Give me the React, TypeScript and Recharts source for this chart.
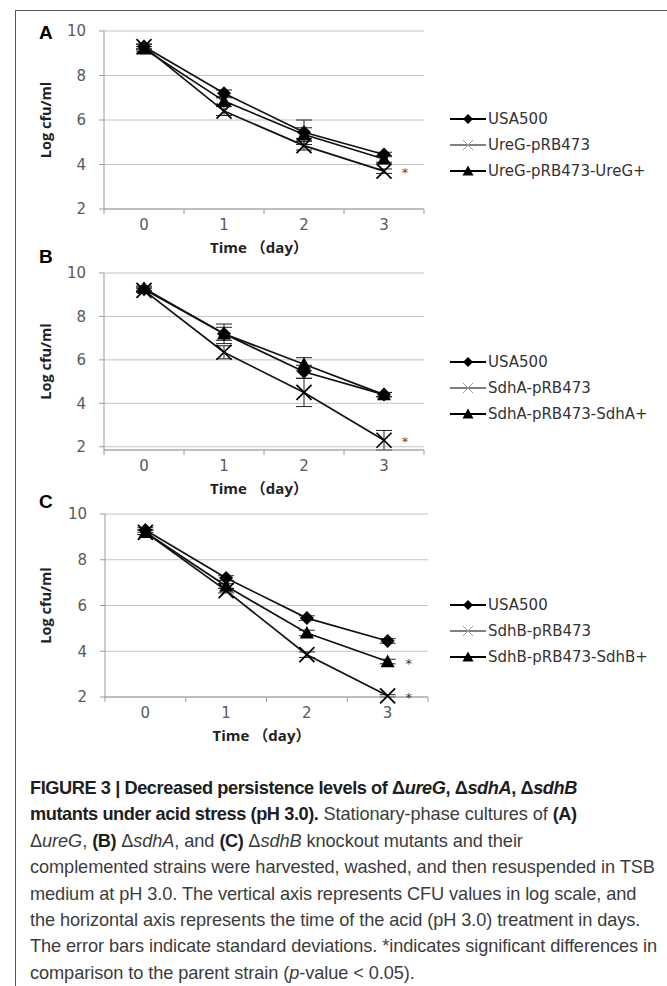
import { LineChart, Line, XAxis, YAxis, CartesianGrid, ErrorBar, Legend, LabelList } from "recharts";

const DAYS = [0, 1, 2, 3];
const Y_TICKS = [2, 4, 6, 8, 10];

// panel A: ureG
const A_NAMES = ["USA500", "UreG-pRB473", "UreG-pRB473-UreG+"];
const A_WT = [9.3, 7.2, 5.45, 4.45];
const A_MUT = [9.3, 6.4, 4.85, 3.7];
const A_COMP = [9.2, 6.85, 5.35, 4.25];
const A_WT_SD = [0.1, 0.15, 0.55, 0.1];
const A_MUT_SD = [0.12, 0.2, 0.2, 0.1];
const A_COMP_SD = [0.1, 0.15, 0.3, 0.15];
const A_MUT_SIG = ["", "", "", "*"];
const A_COMP_SIG = ["", "", "", ""];

// panel B: sdhA
const B_NAMES = ["USA500", "SdhA-pRB473", "SdhA-pRB473-SdhA+"];
const B_WT = [9.25, 7.2, 5.45, 4.4];
const B_MUT = [9.2, 6.35, 4.5, 2.3];
const B_COMP = [9.3, 7.2, 5.8, 4.4];
const B_WT_SD = [0.1, 0.45, 0.3, 0.1];
const B_MUT_SD = [0.1, 0.3, 0.65, 0.45];
const B_COMP_SD = [0.1, 0.3, 0.3, 0.1];
const B_MUT_SIG = ["", "", "", "*"];
const B_COMP_SIG = ["", "", "", ""];

// panel C: sdhB
const C_NAMES = ["USA500", "SdhB-pRB473", "SdhB-pRB473-SdhB+"];
const C_WT = [9.3, 7.2, 5.45, 4.45];
const C_MUT = [9.2, 6.65, 3.85, 2.05];
const C_COMP = [9.2, 6.85, 4.8, 3.55];
const C_WT_SD = [0.1, 0.1, 0.1, 0.1];
const C_MUT_SD = [0.1, 0.1, 0.12, 0.05];
const C_COMP_SD = [0.1, 0.1, 0.12, 0.1];
const C_MUT_SIG = ["", "", "", "*"];
const C_COMP_SIG = ["", "", "", "*"];

const rowsOf = (wt, mut, comp, wtSd, mutSd, compSd, mutSig, compSig) =>
  DAYS.map((day, i) => ({
    day,
    wt: wt[i],
    mut: mut[i],
    comp: comp[i],
    wtSd: wtSd[i],
    mutSd: mutSd[i],
    compSd: compSd[i],
    mutSig: mutSig[i],
    compSig: compSig[i],
  }));

const Diamond = ({ cx, cy, r = 7 }) => (
  <polygon points={`${cx},${cy - r} ${cx + r},${cy} ${cx},${cy + r} ${cx - r},${cy}`} fill="#000" />
);

const Cross = ({ cx, cy, r = 7.5, stroke = "#000", sw = 1.7 }) => (
  <g stroke={stroke} strokeWidth={sw}>
    <line x1={cx - r} y1={cy - r} x2={cx + r} y2={cy + r} />
    <line x1={cx - r} y1={cy + r} x2={cx + r} y2={cy - r} />
  </g>
);

const Tri = ({ cx, cy, r = 7 }) => (
  <polygon points={`${cx},${cy - r} ${cx + r},${cy + r * 0.8} ${cx - r},${cy + r * 0.8}`} fill="#000" />
);

function DayTick(props) {
  const { x, y, payload, index, half } = props;
  const axisY = y - 11;
  return (
    <g>
      <line x1={x - half} y1={axisY} x2={x - half} y2={axisY + 5} stroke="#9a9a9a" />
      {index === DAYS.length - 1 && (
        <line x1={x + half} y1={axisY} x2={x + half} y2={axisY + 5} stroke="#9a9a9a" />
      )}
      <text x={x} y={y} dy="0.68em" textAnchor="middle" fill="#595959" fontSize={15} fontFamily="DejaVu Sans">
        {payload.value}
      </text>
    </g>
  );
}

function LegendBox({ names }) {
  const marks = [
    <Diamond cx={18} cy={8} r={5} />,
    <Cross cx={18} cy={8} r={5} stroke="#999" sw={1} />,
    <Tri cx={18} cy={8} r={5.5} />,
  ];
  return (
    <div>
      {names.map((n, i) => (
        <div key={n} style={{ display: "flex", alignItems: "center", height: 26 }}>
          <svg width={36} height={16}>
            <line x1={0} y1={8} x2={36} y2={8} stroke="#000" strokeWidth={i === 1 ? 1.2 : 2} />
            {marks[i]}
          </svg>
          <span style={{ marginLeft: 2, fontSize: 15, fontFamily: "'DejaVu Sans'", color: "#333", whiteSpace: "nowrap" }}>
            {n}
          </span>
        </div>
      ))}
    </div>
  );
}

const sigLabel = (color) => (p) =>
  p.value ? (
    <text x={p.x + 21} y={p.y + 6} fill={color} fontSize={13} fontFamily="DejaVu Sans" textAnchor="middle">
      {p.value}
    </text>
  ) : null;

function Panel({ letter, letterY, names, rows, top, plotH, plotLeft, plotRight, legendTop, sigColor }) {
  const height = 31 + plotH + 45 + 11;
  const half = (plotRight - plotLeft) / 8;
  const midX = (plotLeft + plotRight) / 2;
  return (
    <div style={{ position: "absolute", left: 0, top, width: 667, height }}>
      <div
        style={{
          position: "absolute",
          left: 39,
          top: letterY - 11,
          fontFamily: "Liberation Sans",
          fontWeight: "bold",
          fontSize: 19,
          lineHeight: "22px",
          color: "#000",
        }}
      >
        {letter}
      </div>
      <LineChart width={667} height={height} data={rows} margin={{ top: 31, right: 667 - plotRight, bottom: 11, left: 0 }}>
        <CartesianGrid vertical={false} stroke="#c2c2c2" />
        <XAxis
          dataKey="day"
          type="number"
          domain={[-0.5, 3.5]}
          ticks={DAYS}
          height={45}
          tickSize={5}
          tickMargin={6}
          tickLine={false}
          axisLine={{ stroke: "#9a9a9a" }}
          tick={(p) => <DayTick {...p} half={half} />}
          label={{
            content: () => (
              <text
                x={midX - 5}
                y={31 + plotH + 44}
                textAnchor="middle"
                fontSize={15}
                fontWeight="bold"
                fontFamily='"Open Sans", "Noto Sans CJK SC"'
                fill="#222"
              >
                Time （day）
              </text>
            ),
          }}
        />
        <YAxis
          width={plotLeft}
          domain={[2, 10]}
          ticks={Y_TICKS}
          tickSize={5}
          tickMargin={13}
          axisLine={{ stroke: "#9a9a9a" }}
          tickLine={{ stroke: "#9a9a9a" }}
          tick={{ fill: "#595959", fontSize: 15, fontFamily: "DejaVu Sans" }}
          label={{
            content: () => (
              <text
                transform={`translate(51, ${31 + plotH / 2}) rotate(-90)`}
                textAnchor="middle"
                fontSize={14.5}
                fontWeight="bold"
                fontFamily="Open Sans"
                fill="#222"
              >
                Log cfu/ml
              </text>
            ),
          }}
        />
        <Line
          dataKey="wt"
          name={names[0]}
          stroke="#111"
          strokeWidth={1.7}
          isAnimationActive={false}
          dot={(p) => <Diamond key={`wt-${p.index}`} cx={p.cx} cy={p.cy} />}
        >
          <ErrorBar dataKey="wtSd" direction="y" width={8} stroke="#222" strokeWidth={1} />
        </Line>
        <Line
          dataKey="mut"
          name={names[1]}
          stroke="#111"
          strokeWidth={1.7}
          isAnimationActive={false}
          dot={(p) => <Cross key={`mut-${p.index}`} cx={p.cx} cy={p.cy} />}
        >
          <ErrorBar dataKey="mutSd" direction="y" width={8} stroke="#222" strokeWidth={1} />
          <LabelList dataKey="mutSig" content={sigLabel(sigColor)} />
        </Line>
        <Line
          dataKey="comp"
          name={names[2]}
          stroke="#111"
          strokeWidth={1.7}
          isAnimationActive={false}
          dot={(p) => <Tri key={`comp-${p.index}`} cx={p.cx} cy={p.cy} />}
        >
          <ErrorBar dataKey="compSd" direction="y" width={8} stroke="#222" strokeWidth={1} />
          <LabelList dataKey="compSig" content={sigLabel(sigColor)} />
        </Line>
        <Legend
          layout="vertical"
          align="center"
          verticalAlign="middle"
          wrapperStyle={{ left: 450, top: legendTop, width: 215 }}
          content={() => <LegendBox names={names} />}
        />
      </LineChart>
    </div>
  );
}

function Caption() {
  const bold = { fontWeight: "bold", color: "#1e1e1e", letterSpacing: "-0.42px" };
  return (
    <div
      style={{
        position: "absolute",
        left: 30,
        top: 775,
        fontFamily: "Liberation Sans",
        fontSize: 18.2,
        lineHeight: "26.4px",
        letterSpacing: "-0.08px",
        color: "#3c3c3c",
        whiteSpace: "nowrap",
      }}
    >
      <span style={bold}>
        FIGURE 3 | Decreased persistence levels of Δ<i>ureG</i>, Δ<i>sdhA</i>, Δ<i>sdhB</i>
      </span>
      <br />
      <span style={bold}>mutants under acid stress (pH 3.0).</span> Stationary-phase cultures of <span style={bold}>(A)</span>
      <br />
      Δ<i>ureG</i>, <span style={bold}>(B)</span> Δ<i>sdhA</i>, and <span style={bold}>(C)</span> Δ<i>sdhB</i> knockout mutants and their
      <br />
      complemented strains were harvested, washed, and then resuspended in TSB
      <br />
      medium at pH 3.0. The vertical axis represents CFU values in log scale, and
      <br />
      the horizontal axis represents the time of the acid (pH 3.0) treatment in days.
      <br />
      The error bars indicate standard deviations. *indicates significant differences in
      <br />
      comparison to the parent strain (<i>p</i>-value &lt; 0.05).
    </div>
  );
}

export default function App() {
  const rowsA = rowsOf(A_WT, A_MUT, A_COMP, A_WT_SD, A_MUT_SD, A_COMP_SD, A_MUT_SIG, A_COMP_SIG);
  const rowsB = rowsOf(B_WT, B_MUT, B_COMP, B_WT_SD, B_MUT_SD, B_COMP_SD, B_MUT_SIG, B_COMP_SIG);
  const rowsC = rowsOf(C_WT, C_MUT, C_COMP, C_WT_SD, C_MUT_SD, C_COMP_SD, C_MUT_SIG, C_COMP_SIG);
  return (
    <div style={{ position: "absolute", left: 0, top: 0, width: 667, height: 986, overflow: "hidden", background: "#fff" }}>
      <div style={{ position: "absolute", left: 15, top: 10, width: 720, height: 1020, border: "1px solid #555" }} />
      <Panel letter="A" letterY={33} names={A_NAMES} rows={rowsA} top={0} plotH={178} plotLeft={104} plotRight={424} legendTop={106} sigColor="#7a3b3b" />
      <Panel letter="B" letterY={15} names={B_NAMES} rows={rowsB} top={242} plotH={177} plotLeft={104} plotRight={424} legendTop={107} sigColor="#7a3b3b" />
      <Panel letter="C" letterY={19} names={C_NAMES} rows={rowsC} top={483} plotH={183} plotLeft={105} plotRight={428} legendTop={109} sigColor="#2e3550" />
      <Caption />
    </div>
  );
}
